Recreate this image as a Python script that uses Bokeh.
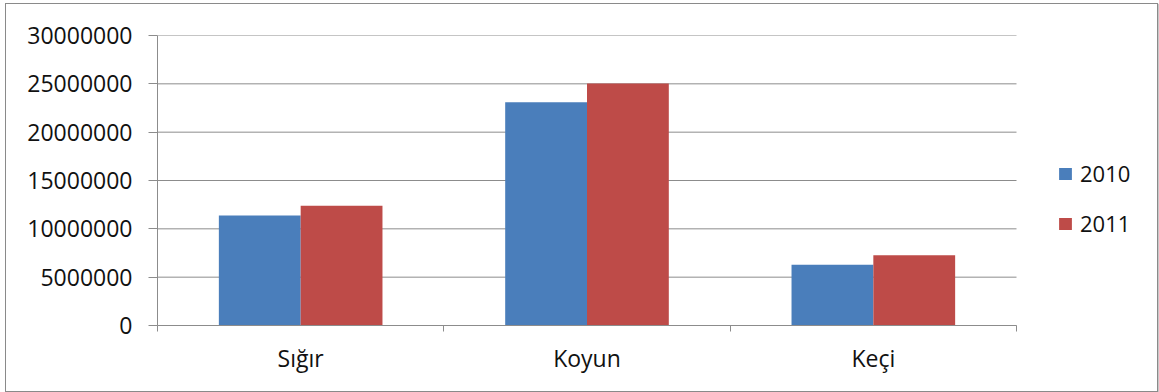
from bokeh.plotting import figure
from bokeh.models import (Range1d, FixedTicker, LinearAxis, Legend, LegendItem,
                          ColumnDataSource, NumeralTickFormatter)
from bokeh.transform import dodge
from bokeh.embed import file_html
from bokeh.resources import INLINE

categories = ["Sığır", "Koyun", "Keçi"]
series_names = ["2010", "2011"]
values_2010 = [11369800, 23089691, 6293233]
values_2011 = [12386337, 25031565, 7277953]
y_ticks = [0, 5000000, 10000000, 15000000, 20000000, 25000000, 30000000]

FONT = "Open Sans"
GRID = "#8c8c8c"
BLUE = "#4a7ebb"
RED = "#be4b48"
TXT = "#111111"

n = len(categories)
centers = [i + 0.5 for i in range(n)]
src = ColumnDataSource(dict(x=centers, cat=categories, v2010=values_2010, v2011=values_2011))

PLOT_W = 859     # pixel width of the category area
FRAME_W = 990    # frame extends to the right to host the legend
p = figure(x_range=Range1d(0, n * FRAME_W / PLOT_W), y_range=Range1d(0, y_ticks[-1]),
           frame_width=FRAME_W, frame_height=290, output_backend="svg", toolbar_location=None,
           x_axis_location=None,
           min_border_left=151, min_border_right=10, min_border_top=31, min_border_bottom=66)
p.styles = {"border": "1px solid #8a8a8a", "margin-left": "5px", "margin-top": "3px",
            "box-shadow": "1px 1px 1px #c8c8c8"}
p.outline_line_color = None
p.background_fill_color = "white"
p.xgrid.grid_line_color = None
p.ygrid.grid_line_color = None

# horizontal gridlines limited to the category area
p.segment(x0=0, x1=n, y0=y_ticks, y1=y_ticks, line_color=GRID, line_width=1)

bw = 1 / 3.5
r1 = p.vbar(x=dodge("x", -bw / 2), top="v2010", width=bw, source=src,
            fill_color=BLUE, line_color=None)
r2 = p.vbar(x=dodge("x", bw / 2), top="v2011", width=bw, source=src,
            fill_color=RED, line_color=None)

# y axis
yax = p.yaxis[0]
yax.ticker = FixedTicker(ticks=y_ticks)
yax.formatter = NumeralTickFormatter(format="0")
yax.axis_line_color = GRID
yax.major_tick_line_color = GRID
yax.major_tick_out = 9
yax.major_tick_in = 0
yax.minor_tick_line_color = None
yax.major_label_standoff = 16
yax.major_label_text_font = FONT
yax.major_label_text_font_size = "23px"
yax.major_label_text_color = TXT

# x axis: labels at category centres, ticks at category boundaries
xax = LinearAxis(ticker=FixedTicker(ticks=centers, minor_ticks=list(range(n + 1))),
                 bounds=(0, n),
                 major_label_overrides={c: lab for c, lab in zip(centers, categories)},
                 axis_line_color=GRID, major_tick_line_color=None,
                 major_tick_out=0, major_tick_in=0,
                 minor_tick_line_color=GRID, minor_tick_out=6, minor_tick_in=0,
                 major_label_standoff=10,
                 major_label_text_font=FONT, major_label_text_font_size="23px",
                 major_label_text_color=TXT)
p.add_layout(xax, "below")

legend = Legend(items=[LegendItem(label=series_names[0], renderers=[r1]),
                       LegendItem(label=series_names[1], renderers=[r2])],
                label_text_font=FONT, label_text_font_size="22px", label_text_color=TXT,
                glyph_width=16, glyph_height=15, label_height=20, spacing=20,
                border_line_color=None, background_fill_alpha=0, margin=0, padding=0,
                label_standoff=7, location=(900, 87))
p.add_layout(legend, "center")

open("out.html", "w").write(file_html(p, INLINE))
